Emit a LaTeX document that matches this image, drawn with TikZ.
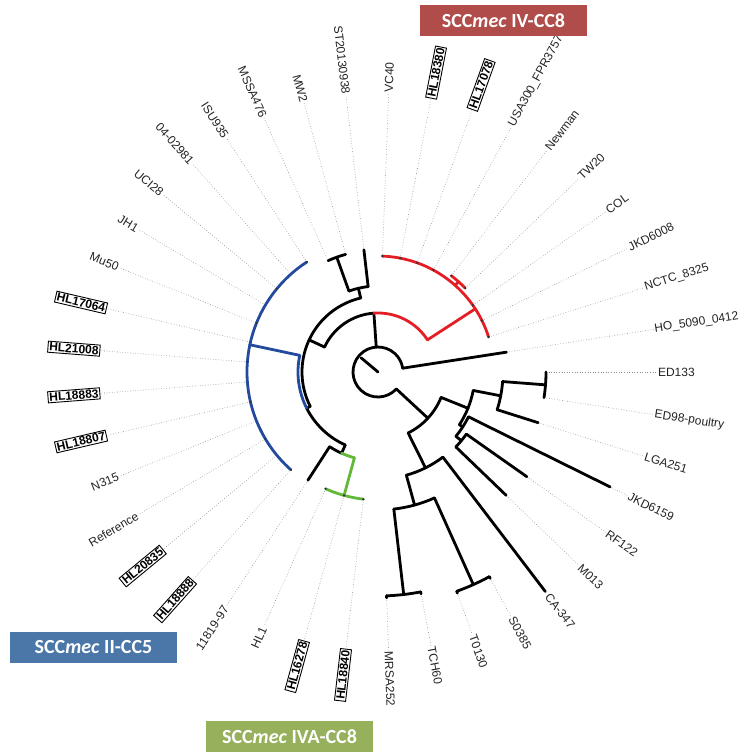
\documentclass[tikz,border=0pt]{standalone}
\usepackage{fontspec}
\setmainfont{Liberation Sans}
\newfontfamily\tagfont{Carlito}
\definecolor{cladered}{RGB}{228,30,36}
\definecolor{cladeblue}{RGB}{36,74,158}
\definecolor{cladegreen}{RGB}{98,184,56}
\definecolor{tagred}{RGB}{176,76,74}
\definecolor{tagblue}{RGB}{74,118,168}
\definecolor{taggreen}{RGB}{150,176,92}
\definecolor{labelgray}{RGB}{35,35,35}
\tikzset{
  br/.style={line width=2.8pt, line cap=round},
  leader/.style={black!45, dotted, line width=0.6pt},
  labr/.style={anchor=west, inner sep=1pt, outer sep=0pt, text=labelgray, font=\fontsize{12}{12}\selectfont},
  labl/.style={labr, anchor=east},
  hlbox/.style={draw=black, line width=0.9pt, inner sep=1.3pt, text=black, font=\fontsize{12}{12}\selectfont\bfseries},
  tipdot/.style={fill=black!80},
  cladetag/.style={minimum width=167pt, minimum height=31pt, inner sep=0pt, text=white, font=\tagfont\bfseries\fontsize{20}{20}\selectfont}
}
\begin{document}
\begin{tikzpicture}[x=1pt,y=1pt]
\useasboundingbox (-378,-380) rectangle (366,372);

% leaf tips
\coordinate (t0) at (0:168);
\coordinate (t1) at (-8.780:168);
\coordinate (t2) at (-17.561:168);
\coordinate (t3) at (-26.341:259);
\coordinate (t4) at (-35.122:182);
\coordinate (t5) at (-43.902:178);
\coordinate (t6) at (-52.683:276);
\coordinate (t7) at (-61.463:235);
\coordinate (t8) at (-70.244:235);
\coordinate (t9) at (-79.024:226);
\coordinate (t10) at (-87.805:226);
\coordinate (t11) at (-96.585:128);
\coordinate (t12) at (-105.366:128);
\coordinate (t13) at (-114.146:128);
\coordinate (t14) at (-122.927:129);
\coordinate (t15) at (-131.707:131);
\coordinate (t16) at (-140.488:131);
\coordinate (t17) at (-149.268:131);
\coordinate (t18) at (-158.049:131);
\coordinate (t19) at (-166.829:131);
\coordinate (t20) at (-175.610:131);
\coordinate (t21) at (-184.390:131);
\coordinate (t22) at (-193.171:131);
\coordinate (t23) at (-201.951:131);
\coordinate (t24) at (-210.732:131);
\coordinate (t25) at (-219.512:131);
\coordinate (t26) at (-228.293:131);
\coordinate (t27) at (-237.073:131);
\coordinate (t28) at (-245.854:122);
\coordinate (t29) at (-254.634:122);
\coordinate (t30) at (-263.415:123);
\coordinate (t31) at (-272.195:116);
\coordinate (t32) at (-280.976:116);
\coordinate (t33) at (-289.756:116);
\coordinate (t34) at (-298.537:116);
\coordinate (t35) at (-307.317:121);
\coordinate (t36) at (-316.098:121);
\coordinate (t37) at (-324.878:116);
\coordinate (t38) at (-333.659:116);
\coordinate (t39) at (-342.439:116);
\coordinate (t40) at (-351.220:130);

% inner nodes and their bases
\coordinate (root) at (0,0);
\coordinate (stem) at (-220:22);
\coordinate (nL) at (-42.80:68);   \coordinate (nL-b) at (-42.80:25);
\coordinate (nL1) at (-21.95:97);  \coordinate (nL1-b) at (-21.95:68);
\coordinate (nL4) at (-10.98:125); \coordinate (nL4-b) at (-10.98:97);
\coordinate (nEE) at (-4.39:168);  \coordinate (nEE-b) at (-4.39:125);
\coordinate (t2-b) at (-17.561:125);
\coordinate (nL5) at (-32.93:101); \coordinate (nL5-b) at (-32.93:97);
\coordinate (t3-b) at (-26.341:101);
\coordinate (nL6) at (-39.51:108); \coordinate (nL6-b) at (-39.51:101);
\coordinate (t4-b) at (-35.122:108);
\coordinate (t5-b) at (-43.902:108);
\coordinate (nL2) at (-63.66:107); \coordinate (nL2-b) at (-63.66:68);
\coordinate (t6-b) at (-52.683:107);
\coordinate (nL3) at (-74.63:138); \coordinate (nL3-b) at (-74.63:107);
\coordinate (nST) at (-65.85:233); \coordinate (nST-b) at (-65.85:138);
\coordinate (t7-b) at (-61.463:233);
\coordinate (t8-b) at (-70.244:233);
\coordinate (nTM) at (-83.41:224); \coordinate (nTM-b) at (-83.41:138);
\coordinate (t9-b) at (-79.024:224);
\coordinate (t10-b) at (-87.805:224);
\coordinate (t40-b) at (-351.220:25);
\coordinate (nT) at (-266:59);     \coordinate (nT-b) at (-266:25);
\coordinate (nR) at (-327:116);    \coordinate (nR-b) at (-327:59);
\coordinate (nNT) at (-311.71:121); \coordinate (nNT-b) at (-311.71:116);
\coordinate (nD) at (-205:76);     \coordinate (nD-b) at (-205:59);
\coordinate (nE) at (-256.83:86);  \coordinate (nE-b) at (-256.83:76);
\coordinate (t30-b) at (-263.415:86);
\coordinate (nF) at (-250.24:122); \coordinate (nF-b) at (-250.24:86);
\coordinate (nC) at (-153.07:80);  \coordinate (nC-b) at (-153.07:76);
\coordinate (nBl) at (-192:131);   \coordinate (nBl-b) at (-192:80);
\coordinate (nB1) at (-114.15:89); \coordinate (nB1-b) at (-114.15:80);
\coordinate (t14-b) at (-122.927:89);
\coordinate (nG) at (-105.37:128); \coordinate (nG-b) at (-105.37:89);

% labels
\node[labr] (ed133) at (0:279) {ED133};
\node[labr, rotate=-8.780] (ed98) at (-8.780:279) {ED98-poultry};
\node[labr, rotate=-17.561] (lga251) at (-17.561:279) {LGA251};
\node[labr, rotate=-26.341] (jkd6159) at (-26.341:279) {JKD6159};
\node[labr, rotate=-35.122] (rf122) at (-35.122:279) {RF122};
\node[labr, rotate=-43.902] (m013) at (-43.902:279) {M013};
\node[labr, rotate=-52.683] (ca347) at (-52.683:279) {CA-347};
\node[labr, rotate=-61.463] (s0385) at (-61.463:279) {S0385};
\node[labr, rotate=-70.244] (t0130) at (-70.244:279) {T0130};
\node[labr, rotate=-79.024] (tch60) at (-79.024:279) {TCH60};
\node[labr, rotate=-87.805] (mrsa252) at (-87.805:279) {MRSA252};
\node[labl, hlbox, rotate=83.415] (hl18840) at (-96.585:279) {HL18840};
\node[labl, hlbox, rotate=74.634] (hl16278) at (-105.366:279) {HL16278};
\node[labl, rotate=65.854] (hl1) at (-114.146:279) {HL1};
\node[labl, rotate=57.073] (s11819) at (-122.927:279) {11819-97};
\node[labl, hlbox, rotate=48.293] (hl18888) at (-131.707:279) {HL18888};
\node[labl, hlbox, rotate=39.512] (hl20835) at (-140.488:279) {HL20835};
\node[labl, rotate=30.732] (reference) at (-149.268:279) {Reference};
\node[labl, rotate=21.951] (n315) at (-158.049:279) {N315};
\node[labl, hlbox, rotate=13.171] (hl18807) at (-166.829:279) {HL18807};
\node[labl, hlbox, rotate=4.390] (hl18883) at (-175.610:279) {HL18883};
\node[labl, hlbox, rotate=-4.390] (hl21008) at (-184.390:279) {HL21008};
\node[labl, hlbox, rotate=-13.171] (hl17064) at (-193.171:279) {HL17064};
\node[labl, rotate=-21.951] (mu50) at (-201.951:279) {Mu50};
\node[labl, rotate=-30.732] (jh1) at (-210.732:279) {JH1};
\node[labl, rotate=-39.512] (uci28) at (-219.512:279) {UCI28};
\node[labl, rotate=-48.293] (s0402981) at (-228.293:279) {04-02981};
\node[labl, rotate=-57.073] (isu935) at (-237.073:279) {ISU935};
\node[labl, rotate=-65.854] (mssa476) at (-245.854:279) {MSSA476};
\node[labl, rotate=-74.634] (mw2) at (-254.634:279) {MW2};
\node[labl, rotate=-83.415] (st2013) at (-263.415:279) {ST20130938};
\node[labr, rotate=87.805] (vc40) at (-272.195:279) {VC40};
\node[labr, hlbox, rotate=79.024] (hl18380) at (-280.976:279) {HL18380};
\node[labr, hlbox, rotate=70.244] (hl17078) at (-289.756:279) {HL17078};
\node[labr, rotate=61.463] (usa300) at (-298.537:279) {USA300\_FPR3757};
\node[labr, rotate=52.683] (newman) at (-307.317:279) {Newman};
\node[labr, rotate=43.902] (tw20) at (-316.098:279) {TW20};
\node[labr, rotate=35.122] (col) at (-324.878:279) {COL};
\node[labr, rotate=26.341] (jkd6008) at (-333.659:279) {JKD6008};
\node[labr, rotate=17.561] (nctc8325) at (-342.439:279) {NCTC\_8325};
\node[labr, rotate=8.780] (ho5090) at (-351.220:279) {HO\_5090\_0412};

% leaders
\draw[leader] (t0) -- (ed133);
\draw[leader] (t1) -- (ed98);
\draw[leader] (t2) -- (lga251);
\draw[leader] (t3) -- (jkd6159);
\draw[leader] (t4) -- (rf122);
\draw[leader] (t5) -- (m013);
\draw[leader] (t7) -- (s0385);
\draw[leader] (t8) -- (t0130);
\draw[leader] (t9) -- (tch60);
\draw[leader] (t10) -- (mrsa252);
\draw[leader] (t11) -- (hl18840);
\draw[leader] (t12) -- (hl16278);
\draw[leader] (t13) -- (hl1);
\draw[leader] (t14) -- (s11819);
\draw[leader] (t15) -- (hl18888);
\draw[leader] (t16) -- (hl20835);
\draw[leader] (t17) -- (reference);
\draw[leader] (t18) -- (n315);
\draw[leader] (t19) -- (hl18807);
\draw[leader] (t20) -- (hl18883);
\draw[leader] (t21) -- (hl21008);
\draw[leader] (t22) -- (hl17064);
\draw[leader] (t23) -- (mu50);
\draw[leader] (t24) -- (jh1);
\draw[leader] (t25) -- (uci28);
\draw[leader] (t26) -- (s0402981);
\draw[leader] (t27) -- (isu935);
\draw[leader] (t28) -- (mssa476);
\draw[leader] (t29) -- (mw2);
\draw[leader] (t30) -- (st2013);
\draw[leader] (t31) -- (vc40);
\draw[leader] (t32) -- (hl18380);
\draw[leader] (t33) -- (hl17078);
\draw[leader] (t34) -- (usa300);
\draw[leader] (t35) -- (newman);
\draw[leader] (t36) -- (tw20);
\draw[leader] (t37) -- (col);
\draw[leader] (t38) -- (jkd6008);
\draw[leader] (t39) -- (nctc8325);
\draw[leader] (t40) -- (ho5090);

% black branches
\draw[br] (root) -- (stem);
\draw[br] (nL-b) arc[start angle=-42.80, end angle=-351.22, radius=25];
\draw[br] (nL-b) -- (nL);
\draw[br] (nL1-b) arc[start angle=-21.95, end angle=-63.66, radius=68];
\draw[br] (nL1-b) -- (nL1);
\draw[br] (nL4-b) arc[start angle=-10.98, end angle=-32.93, radius=97];
\draw[br] (nL4-b) -- (nL4);
\draw[br] (nEE-b) arc[start angle=-4.39, end angle=-17.561, radius=125];
\draw[br] (nEE-b) -- (nEE);
\draw[br] (t0) arc[start angle=0, end angle=-8.780, radius=168];
\draw[br] (t2-b) -- (t2);
\draw[br] (nL5-b) -- (nL5);
\draw[br] (t3-b) arc[start angle=-26.341, end angle=-39.51, radius=101];
\draw[br] (t3-b) -- (t3);
\draw[br] (nL6-b) -- (nL6);
\draw[br] (t4-b) arc[start angle=-35.122, end angle=-43.902, radius=108];
\draw[br] (t4-b) -- (t4);
\draw[br] (t5-b) -- (t5);
\draw[br] (nL2-b) -- (nL2);
\draw[br] (t6-b) arc[start angle=-52.683, end angle=-74.63, radius=107];
\draw[br] (t6-b) -- (t6);
\draw[br] (nL3-b) -- (nL3);
\draw[br] (nST-b) arc[start angle=-65.85, end angle=-83.41, radius=138];
\draw[br] (nST-b) -- (nST);
\draw[br] (t7-b) arc[start angle=-61.463, end angle=-70.244, radius=233];
\draw[br] (t7-b) -- (t7);
\draw[br] (t8-b) -- (t8);
\draw[br] (nTM-b) -- (nTM);
\draw[br] (t9-b) arc[start angle=-79.024, end angle=-87.805, radius=224];
\draw[br] (t9-b) -- (t9);
\draw[br] (t10-b) -- (t10);
\draw[br] (t40-b) -- (t40);
\draw[br] (nT-b) -- (nT);
\draw[br] (nT) arc[start angle=-266, end angle=-205, radius=59];
\draw[br] (nD-b) -- (nD);
\draw[br] (nE-b) arc[start angle=-256.83, end angle=-153.07, radius=76];
\draw[br] (nE-b) -- (nE);
\draw[br] (t30-b) arc[start angle=-263.415, end angle=-250.24, radius=86];
\draw[br] (t30-b) -- (t30);
\draw[br] (nF-b) -- (nF);
\draw[br] (t28) arc[start angle=-245.854, end angle=-254.634, radius=122];
\draw[br] (nC-b) -- (nC);
\draw[br] (nC) arc[start angle=-153.07, end angle=-114.15, radius=80];
\draw[br] (nB1-b) -- (nB1);
\draw[br] (nB1) arc[start angle=-114.15, end angle=-122.927, radius=89];
\draw[br] (t14-b) -- (t14);

% SCCmec IV-CC8 clade
\draw[br, cladered] (nT) arc[start angle=-266, end angle=-327, radius=59];
\draw[br, cladered] (nR-b) -- (nR);
\draw[br, cladered] (t31) arc[start angle=-272.195, end angle=-342.439, radius=116];
\draw[br, cladered] (nNT-b) -- (nNT);
\draw[br, cladered] (t35) arc[start angle=-307.317, end angle=-316.098, radius=121];

% SCCmec II-CC5 clade
\draw[br, cladeblue] (nBl-b) arc[start angle=-192, end angle=-153.07, radius=80];
\draw[br, cladeblue] (nBl-b) -- (nBl);
\draw[br, cladeblue] (t15) arc[start angle=-131.707, end angle=-237.073, radius=131];

% SCCmec IVA-CC8 clade
\draw[br, cladegreen] (nB1) arc[start angle=-114.15, end angle=-105.37, radius=89];
\draw[br, cladegreen] (nG-b) -- (nG);
\draw[br, cladegreen] (t11) arc[start angle=-96.585, end angle=-114.146, radius=128];

% tip dots
\fill[tipdot] (t11) circle (1.3) (t12) circle (1.3) (t13) circle (1.3);
\fill[tipdot] (t15) circle (1.1) (t17) circle (1.1) (t19) circle (1.1) (t21) circle (1.1)
  (t23) circle (1.1) (t25) circle (1.1) (t27) circle (1.1);
\fill[tipdot] (t31) circle (1.3) (t32) circle (1.3) (t33) circle (1.3) (t34) circle (1.3)
  (t35) circle (1.3) (t36) circle (1.3) (t37) circle (1.3) (t38) circle (1.3) (t39) circle (1.3);

% clade tags
\node[cladetag, fill=tagred] (tagIV) at (125.5,351.5) {SCC\textit{mec} IV-CC8};
\node[cladetag, fill=tagblue] (tagII) at (-284.5,-275.5) {SCC\textit{mec} II-CC5};
\node[cladetag, fill=taggreen] (tagIVA) at (-88.5,-364.5) {SCC\textit{mec} IVA-CC8};
\end{tikzpicture}
\end{document}
